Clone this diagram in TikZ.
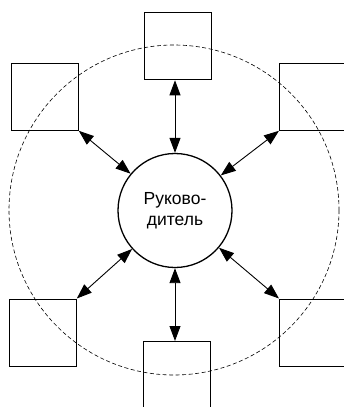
\documentclass[tikz,border=0pt]{standalone}
\usepackage{fontspec}
\setmainfont{Liberation Sans}
\usetikzlibrary{arrows.meta}
\begin{document}
\begin{tikzpicture}[x=1pt,y=-1pt,
  box/.style={draw=black,line width=1.3pt,minimum width=67pt,minimum height=67pt,inner sep=0pt,anchor=north west},
  link/.style={line width=0.9pt,{Triangle[length=15pt,width=11pt]}-{Triangle[length=15pt,width=11pt]}}]
\useasboundingbox (0,0) rectangle (344,407);
\draw[dashed,line width=0.6pt,dash pattern=on 4pt off 2.5pt] (174,210) circle[radius=165];
\node[draw,circle,line width=1.3pt,minimum size=114pt,inner sep=0pt,align=center,font=\fontsize{17.5}{21}\selectfont] (c) at (175,210.5) {Руково-\\дитель};
\node[box] (t) at (144,12) {};
\node[box] (tl) at (10.5,62.5) {};
\node[box] (tr) at (279,62.5) {};
\node[box] (bl) at (8.5,298.5) {};
\node[box] (br) at (279,298.5) {};
\node[box] (b) at (143,341) {};
\draw[link] (c) -- (c |- t.south);
\draw[link] (c) -- (c |- b.north);
\draw[link] (c) -- (tl.south east);
\draw[link] (c) -- (tr.south west);
\draw[link] (c) -- (bl.north east);
\draw[link] (c) -- (br.north west);
\end{tikzpicture}
\end{document}
